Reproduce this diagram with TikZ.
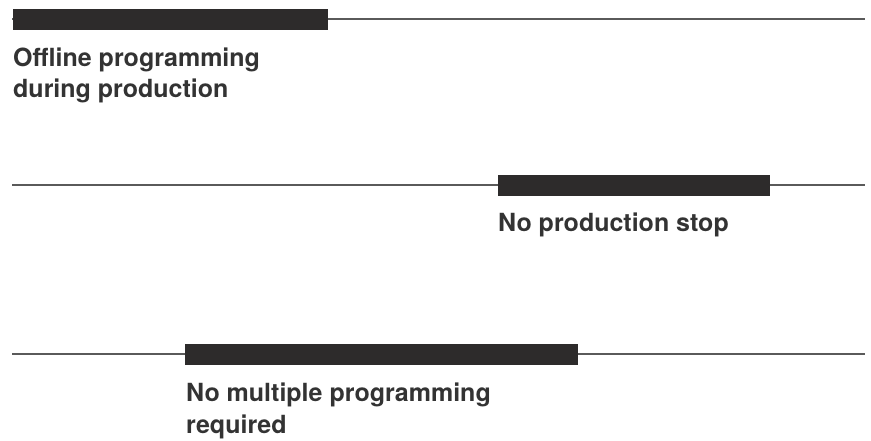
\documentclass[tikz,border=0pt]{standalone}
\usepackage{fontspec}
\setmainfont{TeX Gyre Heros}
\definecolor{bartone}{HTML}{2D2B2B}
\definecolor{linetone}{HTML}{5A5A5A}
\definecolor{texttone}{HTML}{333333}
\begin{document}
\begin{tikzpicture}[x=1pt,y=-1pt,
  rule/.style={draw=linetone,line width=1.4pt},
  bar/.style={fill=bartone,draw=none,inner sep=0pt,anchor=north west,minimum height=21pt},
  label/.style={anchor=base west,inner sep=0pt,align=left,text=texttone,
    font=\fontsize{25}{31.5}\selectfont\bfseries}]
\useasboundingbox (0,0) rectangle (871,441);
% rules
\coordinate (r1a) at (12,19);  \coordinate (r1b) at (865,19);
\coordinate (r2a) at (12,185); \coordinate (r2b) at (865,185);
\coordinate (r3a) at (12,354); \coordinate (r3b) at (865,354);
\draw[rule] (r1a) -- (r1b);
\draw[rule] (r2a) -- (r2b);
\draw[rule] (r3a) -- (r3b);
% bars
\node[bar,minimum width=315pt] (bar1) at (13,8.5) {};
\node[bar,minimum width=272pt] (bar2) at (498,174.5) {};
\node[bar,minimum width=393pt] (bar3) at (185,343.5) {};
% labels (base anchor = baseline of the last line)
\node[label] (t1) at (13,98) {Offline programming\\during production};
\node[label] (t2) at (498,232) {No production stop};
\node[label] (t3) at (186,433) {No multiple programming\\required};
\end{tikzpicture}
\end{document}
